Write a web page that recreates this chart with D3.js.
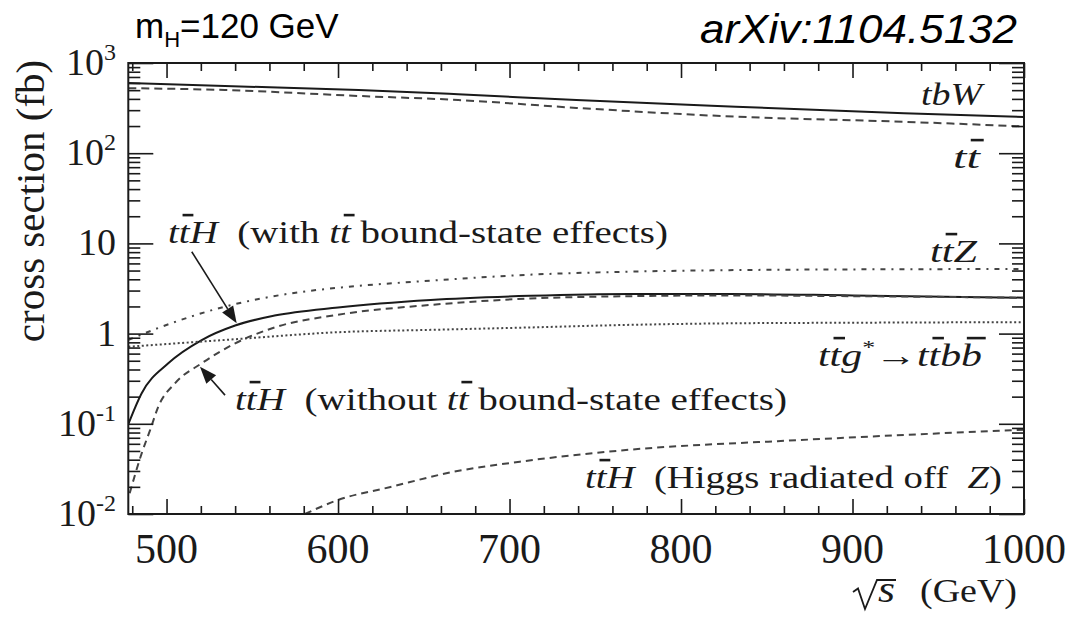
<!DOCTYPE html>
<html><head><meta charset="utf-8">
<script src="https://cdn.jsdelivr.net/npm/d3@7"></script>
<style>body{margin:0;background:#fff} svg{display:block}</style>
</head><body>
<svg id="c" width="1070" height="617"></svg>
<script>
// ---------------- data ----------------
const xDomain = [477.7, 1000];
const yDomain = [0.01, 1000];
const xMajorTicks = [500, 600, 700, 800, 900, 1000];
const xMinorTicks = [480, 520, 540, 560, 580, 620, 640, 660, 680, 720, 740, 760, 780, 820, 840, 860, 880, 920, 940, 960, 980];
const xTickLabels = ["500", "600", "700", "800", "900", "1000"];
const yMajorTicks = [0.01, 0.1, 1, 10, 100, 1000];
const yTickLabels = [["10", "-2"], ["10", "-1"], ["1", ""], ["10", ""], ["10", "2"], ["10", "3"]];

const sqrtS_tbW = [477.7, 534, 612, 670, 739, 832, 930, 1000];
const xs_tbW    = [600, 556, 502, 450, 389, 328, 277, 252];

const sqrtS_tt = [477.7, 534, 612, 670, 739, 832, 930, 1000];
const xs_tt    = [526, 502, 431, 389, 318, 254, 223, 198];

const sqrtS_ttZ = [477.7, 495, 534, 573, 602, 654, 712, 770, 828, 900, 1000];
const xs_ttZ    = [0.85, 1.15, 1.99, 2.80, 3.25, 3.86, 4.5, 4.86, 5.05, 5.15, 5.2];

const sqrtS_ttH_bound = [477.7, 485.5, 501, 520.5, 540, 563, 600, 654, 712, 770, 828, 900, 1000];
const xs_ttH_bound    = [0.099, 0.218, 0.469, 0.849, 1.23, 1.585, 1.95, 2.36, 2.62, 2.75, 2.75, 2.65, 2.5];

const sqrtS_ttH_nobound = [478.5, 485.5, 490.4, 495.2, 504.9, 520.5, 540, 563, 600, 654, 712, 770, 828, 900, 1000];
const xs_ttH_nobound    = [0.017, 0.047, 0.085, 0.155, 0.281, 0.469, 0.78, 1.17, 1.62, 2.08, 2.45, 2.6, 2.65, 2.6, 2.5];

const sqrtS_ttg = [477.7, 534, 602, 654, 712, 770, 828, 900, 1000];
const xs_ttg    = [0.715, 0.85, 1.04, 1.10, 1.17, 1.25, 1.30, 1.32, 1.34];

const sqrtS_ttH_Z = [580.7, 600, 630, 667.5, 706, 764, 869, 1000];
const xs_ttH_Z    = [0.01, 0.0143, 0.0198, 0.0294, 0.038, 0.0504, 0.066, 0.086];

// ---------------- layout ----------------
const svg = d3.select("#c");
const L = 128.3, R = 1024, T = 63, B = 514;
const SERIF = "Liberation Serif, Times New Roman, Times, serif";
const SANS = "Liberation Sans, Arial, Helvetica, sans-serif";
const INK = "#1a1a1a";

const x = d3.scaleLinear().domain(xDomain).range([L, R]);
const y = d3.scaleLog().domain(yDomain).range([B, T]);

svg.append("defs").append("clipPath").attr("id", "clip")
  .append("rect").attr("x", L).attr("y", T).attr("width", R - L).attr("height", B - T);

// ---------------- curves ----------------
const series = [
  {xv: sqrtS_tbW, yv: xs_tbW, dash: null, color: INK, w: 2},
  {xv: sqrtS_tt, yv: xs_tt, dash: "8,5", color: "#444", w: 2},
  {xv: sqrtS_ttZ, yv: xs_ttZ, dash: "5,6,2,6", color: "#444", w: 2},
  {xv: sqrtS_ttH_bound, yv: xs_ttH_bound, dash: null, color: INK, w: 2},
  {xv: sqrtS_ttH_nobound, yv: xs_ttH_nobound, dash: "7,5", color: "#444", w: 2},
  {xv: sqrtS_ttg, yv: xs_ttg, dash: "2,2.5", color: "#444", w: 2},
  {xv: sqrtS_ttH_Z, yv: xs_ttH_Z, dash: "7,5", color: "#444", w: 2}
];
const line = d3.line().x(d => x(d[0])).y(d => y(d[1])).curve(d3.curveMonotoneX);
const cg = svg.append("g").attr("clip-path", "url(#clip)");
series.forEach(s => {
  const pts = s.xv.map((v, i) => [v, s.yv[i]]);
  const p = cg.append("path").attr("d", line(pts)).attr("fill", "none")
    .attr("stroke", s.color).attr("stroke-width", s.w);
  if (s.dash) p.attr("stroke-dasharray", s.dash);
});

// ---------------- axes / ticks ----------------
function styleAxis(g) {
  g.select(".domain").remove();
  g.selectAll(".tick line").attr("stroke", INK).attr("stroke-width", 1.6);
  g.selectAll(".tick text").remove();
}
const yMinorTicks = y.ticks().filter(v => !yMajorTicks.some(m => Math.abs(m - v) / m < 1e-6));

svg.append("g").attr("transform", `translate(0,${B})`)
  .call(d3.axisBottom(x).tickValues(xMajorTicks).tickSize(-15).tickFormat("")).call(styleAxis);
svg.append("g").attr("transform", `translate(0,${B})`)
  .call(d3.axisBottom(x).tickValues(xMinorTicks).tickSize(-8).tickFormat("")).call(styleAxis);
svg.append("g").attr("transform", `translate(0,${T})`)
  .call(d3.axisTop(x).tickValues(xMajorTicks).tickSize(-15).tickFormat("")).call(styleAxis);
svg.append("g").attr("transform", `translate(0,${T})`)
  .call(d3.axisTop(x).tickValues(xMinorTicks).tickSize(-8).tickFormat("")).call(styleAxis);
svg.append("g").attr("transform", `translate(${L},0)`)
  .call(d3.axisLeft(y).tickValues(yMajorTicks).tickSize(-25).tickFormat("")).call(styleAxis);
svg.append("g").attr("transform", `translate(${L},0)`)
  .call(d3.axisLeft(y).tickValues(yMinorTicks).tickSize(-12).tickFormat("")).call(styleAxis);
svg.append("g").attr("transform", `translate(${R},0)`)
  .call(d3.axisRight(y).tickValues(yMajorTicks).tickSize(-25).tickFormat("")).call(styleAxis);
svg.append("g").attr("transform", `translate(${R},0)`)
  .call(d3.axisRight(y).tickValues(yMinorTicks).tickSize(-12).tickFormat("")).call(styleAxis);

svg.append("rect").attr("x", L).attr("y", T).attr("width", R - L).attr("height", B - T)
  .attr("fill", "none").attr("stroke", INK).attr("stroke-width", 2);

// tick labels
svg.append("g").selectAll("text").data(xMajorTicks).join("text")
  .attr("x", d => x(d)).attr("y", 563).attr("text-anchor", "middle")
  .style("font-family", SERIF).attr("font-size", 42).attr("fill", INK)
  .text((d, i) => xTickLabels[i]);

const yl = svg.append("g").selectAll("text").data(yMajorTicks).join("text")
  .attr("x", 116).attr("y", d => y(d) + 12).attr("text-anchor", "end")
  .style("font-family", SERIF).attr("font-size", 38).attr("fill", INK);
yl.append("tspan").text((d, i) => yTickLabels[i][0]);
yl.append("tspan").attr("font-size", 24).attr("dy", -15).text((d, i) => yTickLabels[i][1]);

// y title
svg.append("text").attr("transform", "translate(44,201) rotate(-90)")
  .attr("text-anchor", "middle").style("font-family", SERIF).attr("font-size", 41)
  .attr("fill", INK).text("cross section (fb)");

// rich text helper (italic parts, overbars, superscripts)
function richText(g, spec, fs) {
  const t = g.append("text").attr("x", spec.x).attr("y", spec.y)
    .style("font-family", SERIF).attr("font-size", fs).attr("fill", INK)
    .style("white-space", "pre");
  let idx = 0, shifted = 0;
  const bars = [];
  spec.parts.forEach(([str, st]) => {
    const ts = t.append("tspan").text(str);
    if (st.includes("i")) ts.attr("font-style", "italic");
    if (st.includes("s")) { ts.attr("font-size", fs * 0.62).attr("dy", -fs * 0.4); shifted = fs * 0.4; }
    else if (shifted) { ts.attr("dy", shifted); shifted = 0; }
    if (st.includes("b")) for (let k = 0; k < str.length; k++) bars.push(idx + k);
    idx += str.length;
  });
  if (spec.w) t.attr("textLength", spec.w).attr("lengthAdjust", "spacingAndGlyphs");
  const node = t.node();
  bars.forEach(i => {
    const e = node.getExtentOfChar(i);
    const yb = spec.y - fs * 0.9;
    g.append("line").attr("x1", e.x + e.width * 0.2 + fs * 0.05).attr("x2", e.x + e.width + fs * 0.12)
      .attr("y1", yb).attr("y2", yb).attr("stroke", INK).attr("stroke-width", 2.6);
  });
  return t;
}

const labelSpecs = [
  {x: 921, y: 105, w: 61, parts: [["tbW", "i"]]},
  {x: 953, y: 168, w: 27, parts: [["t", "i"], ["t", "ib"]]},
  {x: 930, y: 262, w: 47, parts: [["t", "i"], ["t", "ib"], ["Z", "i"]]},
  {x: 818, y: 366, w: 164, parts: [["t", "i"], ["t", "ib"], ["g", "i"], ["*", "s"], ["\u2192", ""], ["t", "i"], ["t", "ib"], ["b", "i"], ["b", "ib"]]},
  {x: 168, y: 243, w: 500, parts: [["t", "i"], ["t", "ib"], ["H", "i"], ["  (with ", ""], ["t", "i"], ["t", "ib"], [" bound-state effects)", ""]]},
  {x: 235, y: 410, w: 552, parts: [["t", "i"], ["t", "ib"], ["H", "i"], ["  (without ", ""], ["t", "i"], ["t", "ib"], [" bound-state effects)", ""]]},
  {x: 585, y: 488, w: 417, parts: [["t", "i"], ["t", "ib"], ["H", "i"], ["  (Higgs radiated off  ", ""], ["Z", "i"], [")", ""]]}
];
const lg = svg.append("g");
labelSpecs.forEach(s => richText(lg, s, 31));

// x-axis title: drawn radical + italic s + (GeV)
const xt = svg.append("g");
xt.append("path").attr("d", "M853,592L858,588.5L865,609L877,580L896,580")
  .attr("fill", "none").attr("stroke", INK).attr("stroke-width", 1.8);
xt.append("text").attr("x", 878).attr("y", 602).style("font-family", SERIF).attr("font-style", "italic")
  .attr("font-size", 37).attr("fill", INK).attr("textLength", 17).attr("lengthAdjust", "spacingAndGlyphs").text("s");
xt.append("text").attr("x", 920).attr("y", 602).style("font-family", SERIF)
  .attr("font-size", 34).attr("fill", INK).attr("textLength", 97).attr("lengthAdjust", "spacingAndGlyphs").text("(GeV)");

// arrows (annotation; anchored in data coordinates)
const arrows = [
  {from: [514.7, 8.09], to: [540.9, 1.30]},
  {from: [534.1, 0.208], to: [519.5, 0.43]}
];
arrows.forEach(a => {
  const x1 = x(a.from[0]), y1 = y(a.from[1]), x2 = x(a.to[0]), y2 = y(a.to[1]);
  const ang = Math.atan2(y2 - y1, x2 - x1), hl = 17, hw = 6.5;
  const bx = x2 - hl * Math.cos(ang), by = y2 - hl * Math.sin(ang);
  svg.append("line").attr("x1", x1).attr("y1", y1).attr("x2", bx).attr("y2", by)
    .attr("stroke", INK).attr("stroke-width", 1.6);
  const px = -Math.sin(ang) * hw, py = Math.cos(ang) * hw;
  svg.append("path").attr("d", `M${x2},${y2}L${bx + px},${by + py}L${bx - px},${by - py}Z`).attr("fill", INK);
});

// header texts
const mh = svg.append("text").attr("x", 135).attr("y", 38).style("font-family", SANS)
  .attr("font-size", 35).attr("fill", "#000");
mh.append("tspan").text("m");
mh.append("tspan").attr("font-size", 22).attr("dy", 9).text("H");
mh.append("tspan").attr("dy", -9).text("=120 GeV");

svg.append("text").attr("x", 700).attr("y", 43).style("font-family", SANS)
  .attr("font-style", "italic").attr("font-size", 41).attr("fill", "#000")
  .attr("textLength", 317).attr("lengthAdjust", "spacingAndGlyphs").text("arXiv:1104.5132");
</script>
</body></html>
